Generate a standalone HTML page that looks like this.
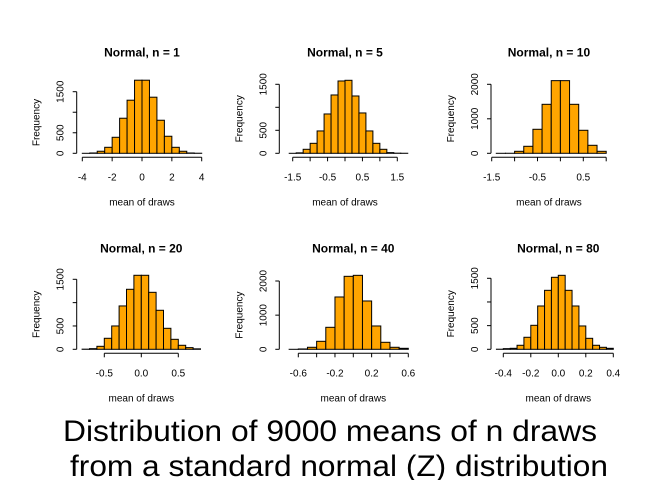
<!DOCTYPE html>
<html><head><meta charset="utf-8"><style>
html,body{margin:0;padding:0;background:#fff;}
svg{display:block;font-family:"Liberation Sans",Arial,sans-serif;}
</style></head><body>
<svg id="chart" width="672" height="480" viewBox="0 0 672 480" xmlns="http://www.w3.org/2000/svg">
<text x="330" y="441" font-size="30" text-anchor="middle" textLength="534" lengthAdjust="spacingAndGlyphs">Distribution of 9000 means of n draws</text>
<text x="339" y="476" font-size="30" text-anchor="middle" textLength="538" lengthAdjust="spacingAndGlyphs">from a standard normal (Z) distribution</text>
</svg>
<script>
const titles = ["Normal, n = 1","Normal, n = 5","Normal, n = 10","Normal, n = 20","Normal, n = 40","Normal, n = 80"];
const binStarts = [-4, -1.6, -1.4, -0.8, -0.7, -0.45];
const binWidths = [0.5, 0.2, 0.2, 0.1, 0.1, 0.05];
const counts1 = [0,8,50,146,390,854,1293,1780,1780,1366,805,415,146,50,8,2];
const counts5 = [0,10,87,217,486,855,1268,1572,1587,1246,877,486,217,87,15,3,1];
const counts10 = [0,1,58,203,696,1420,2106,2106,1420,667,232,58];
const counts20 = [3,14,64,236,500,929,1286,1586,1586,1221,836,450,214,86,36,10];
const counts40 = [0,10,59,234,644,1532,2137,2166,1415,683,205,59,29];
const counts80 = [2,14,21,85,254,507,915,1246,1521,1563,1246,915,493,232,85,42,21];
const allCounts = [counts1,counts5,counts10,counts20,counts40,counts80];
const xTicks = [[-4,-2,0,2,4],[-1.5,-1,-0.5,0,0.5,1,1.5],[-1.5,-1,-0.5,0,0.5,1],[-0.5,0,0.5],[-0.6,-0.4,-0.2,0,0.2,0.4,0.6],[-0.4,-0.2,0,0.2,0.4]];
const xTickLabels = [["-4","-2","0","2","4"],["-1.5","","-0.5","","0.5","","1.5"],["-1.5","","-0.5","","0.5",""],["-0.5","0.0","0.5"],["-0.6","","-0.2","","0.2","","0.6"],["-0.4","-0.2","0.0","0.2","0.4"]];
const yTicks = [[0,500,1000,1500],[0,500,1000,1500],[0,1000,2000],[0,500,1000,1500],[0,1000,2000],[0,500,1000,1500]];
const yTickLabels = [["0","500","","1500"],["0","500","","1500"],["0","1000","2000"],["0","500","","1500"],["0","1000","2000"],["0","500","","1500"]];
// layout: [x ref a, px a, x ref b, px b, y0 px, y ref, y ref px, yaxis px]
const layout = [
 [-4,82.3,4,201.7,153.3,1500,91.7,76.7],
 [-1.5,292.7,1.5,397.3,153.3,1500,84.3,279.3],
 [-1.5,491.7,0.5,583.3,153.3,2000,84.3,491],
 [-0.5,104.3,0.5,178.3,349.3,1500,279.3,76.7],
 [-0.6,298.3,0.6,408.3,349.3,2000,281,279.3],
 [-0.4,503.3,0.4,613.3,349.3,1500,278.3,491]
];
const NS="http://www.w3.org/2000/svg";
const svg=document.getElementById('chart');
function mk(tag,attrs,parent){const e=document.createElementNS(NS,tag);for(const k in attrs)e.setAttribute(k,attrs[k]);(parent||svg).appendChild(e);return e;}
for(let p=0;p<6;p++){
  const L=layout[p];
  const xs=v=>L[1]+(v-L[0])*(L[3]-L[1])/(L[2]-L[0]);
  const ys=v=>L[4]-v*(L[4]-L[6])/L[5];
  const g=mk('g',{});
  
  
  const xAxisY=L[4]+4;
  const cx=(xs(xTicks[p][0])+xs(xTicks[p][xTicks[p].length-1]))/2;
  const t=mk('text',{x:cx,y:L[4]-97,'font-size':12,'font-weight':'bold','text-anchor':'middle'},g);
  t.textContent=titles[p];
  
  
  const c=allCounts[p];
  for(let i=0;i<c.length;i++){
    const x0=xs(binStarts[p]+i*binWidths[p]),x1=xs(binStarts[p]+(i+1)*binWidths[p]);
    const y=ys(c[i]);
    const r=mk('rect',{x:x0,y:y,width:x1-x0,height:Math.max(L[4]-y,0.01),fill:'#FFA500',stroke:'#000','stroke-width':1},g);
    
    
  }
  const xt=xTicks[p];
  const ax=mk('line',{x1:xs(xt[0]),x2:xs(xt[xt.length-1]),y1:xAxisY,y2:xAxisY,stroke:'#000'},g);
  
  
  for(let i=0;i<xt.length;i++){
    const x=xs(xt[i]);
    mk('line',{x1:x,x2:x,y1:xAxisY,y2:xAxisY+4,stroke:'#000'},g);
    if(xTickLabels[p][i]){
      const tl=mk('text',{x:x,y:xAxisY+23,'font-size':10,'text-anchor':'middle'},g);
      tl.textContent=xTickLabels[p][i];
      
      
    }
  }
  const xl=mk('text',{x:cx,y:L[4]+52,'font-size':10,'text-anchor':'middle'},g);
  xl.textContent='mean of draws';
  
  
  const yt=yTicks[p];const yx=L[7];
  const ay=mk('line',{x1:yx,x2:yx,y1:ys(yt[0]),y2:ys(yt[yt.length-1]),stroke:'#000'},g);
  
  
  for(let i=0;i<yt.length;i++){
    const y=ys(yt[i]);
    mk('line',{x1:yx-4,x2:yx,y1:y,y2:y,stroke:'#000'},g);
    if(yTickLabels[p][i]){
      const tl=mk('text',{x:yx-13,y:y,'font-size':10,'text-anchor':'middle',transform:'rotate(-90 '+(yx-13)+' '+y+')'},g);
      tl.textContent=yTickLabels[p][i];
      
      
    }
  }
  const my=(ys(yt[0])+ys(yt[yt.length-1]))/2;
  const fx=yx-37;
  const fl=mk('text',{x:fx,y:my,'font-size':10,'text-anchor':'middle',transform:'rotate(-90 '+fx+' '+my+')'},g);
  fl.textContent='Frequency';
  
  
}
</script>
</body></html>
